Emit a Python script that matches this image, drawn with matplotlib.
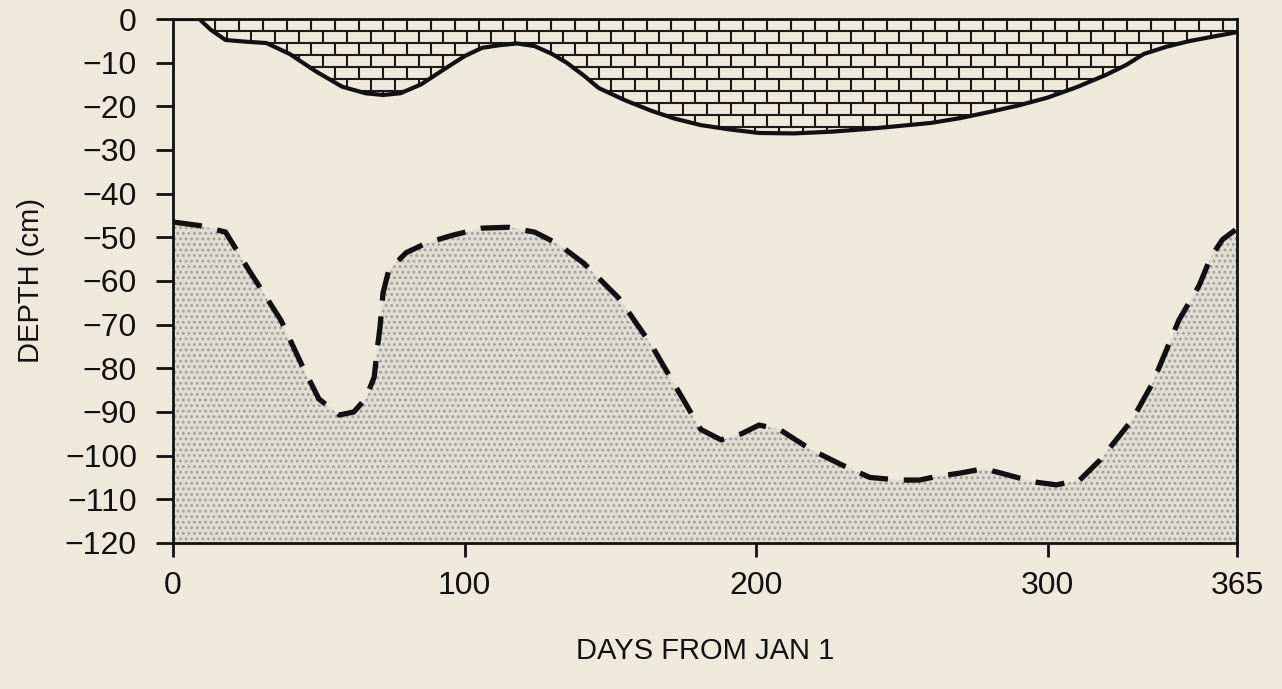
import numpy as np
import matplotlib.pyplot as plt
from matplotlib.collections import LineCollection

# solid line: bottom of the brick (frozen) layer
frost_day = [0, 9, 13, 18, 25, 32, 40, 49, 58, 66, 72, 78, 85, 93, 100, 106, 112, 118, 124,
             130, 135, 141, 146, 155, 164, 172, 181, 191, 201, 213, 226, 238, 249, 260,
             270, 280, 290, 300, 310, 320, 327, 333, 341, 349, 357, 365]
frost_depth = [0, 0, -2.5, -4.8, -5.2, -5.5, -8, -12, -15.5, -17, -17.4, -17, -15, -11.5, -8.5,
               -6.6, -6, -5.6, -6.2, -8, -10, -13, -15.8, -18.6, -21, -22.8, -24.3, -25.3, -26.1,
               -26.2, -25.8, -25.2, -24.5, -23.8, -22.7, -21.3, -19.8, -18, -15.6, -12.8, -10.5,
               -8, -6.3, -5, -4, -3]

# dashed line: top of the stippled layer
thaw_day = [0, 9, 18, 26, 37, 44, 50, 57, 62, 66, 69, 70, 71, 72, 74, 80, 87, 96, 106, 115, 124,
            132, 141, 153, 164, 174, 181, 188, 195, 201, 208, 219, 229, 239, 249, 256, 261,
            270, 278, 284, 295, 303, 311, 318, 329, 336, 345, 352, 356, 360, 365]
thaw_depth = [-46.5, -47.3, -48.8, -57.5, -69, -79, -87, -90.7, -90, -87, -82, -75.8, -70.5,
              -62.8, -57.5, -53.5, -51.3, -49.5, -47.9, -47.7, -48.8, -51.5, -56, -64, -74.6,
              -86, -94, -96.4, -95, -93, -94, -98.7, -102, -105, -105.6, -105.6, -104.9, -104,
              -103, -104, -106, -106.7, -105.6, -101, -91.8, -83.4, -69, -61, -54.5, -50.5, -48]

xticks = [0, 100, 200, 300, 365]
yticks = list(range(0, -121, -10))

bg = '#eeeadb'
plt.rcParams['font.family'] = ['Liberation Sans', 'DejaVu Sans']
plt.rcParams['hatch.linewidth'] = 1.3
plt.rcParams['hatch.color'] = '#a3a199'

fig = plt.figure(figsize=(12.82, 6.89), dpi=100, facecolor=bg)
ax = fig.add_axes([0.135, 0.212, 0.83, 0.7604])
ax.set_facecolor(bg)

# stippled region below the dashed line
ax.fill_between(thaw_day, thaw_depth, -120, facecolor='#e0ddd3', edgecolor='#a3a199',
                hatch='...', linewidth=0, zorder=1)
ax.plot(thaw_day, thaw_depth, color='#111111', lw=3.8, linestyle=(0, (5.5, 3)),
        solid_capstyle='butt', zorder=4)

# brick region between surface and the solid line
poly = ax.fill_between(frost_day, 0, frost_depth, facecolor=bg, edgecolor='none', zorder=2)
row_h = 12 / 4.367   # brick row height in data units (~12 px)
brick_w = 24 / 2.915  # brick width in data units (~24 px)
segs = []
nrows = 11
for i in range(nrows + 1):
    yy = -i * row_h
    segs.append([(0, yy), (365, yy)])
for i in range(nrows):
    y_top, y_bot = -i * row_h, -(i + 1) * row_h
    off = 14.5 + (i % 2) * brick_w / 2
    for xx in np.arange(off - brick_w, 366, brick_w):
        segs.append([(xx, y_top), (xx, y_bot)])
bricks = LineCollection(segs, colors='#1a1a1a', linewidths=1.5, zorder=3)
ax.add_collection(bricks)
bricks.set_clip_path(poly.get_paths()[0], transform=ax.transData)
ax.plot(frost_day, frost_depth, color='#111111', lw=3, zorder=4)

ax.set_xlim(0, 365)
ax.set_ylim(-120, 0)
ax.set_xticks(xticks)
ax.set_yticks(yticks)
ax.set_yticklabels(['0'] + ['\u2212%d' % -v for v in yticks[1:]])
for s in ax.spines.values():
    s.set_linewidth(2)
    s.set_color('#111111')
    s.set_zorder(5)
ax.tick_params(axis='y', length=12, width=2, pad=14, labelsize=23, colors='#111111')
ax.tick_params(axis='x', length=10, width=2, pad=10, labelsize=23, colors='#111111')
ax.set_xlabel('DAYS FROM JAN 1', fontsize=21, labelpad=26, color='#111111')
ax.set_ylabel('DEPTH (cm)', fontsize=21, labelpad=14, color='#111111')

fig.savefig('out.png', dpi=100, facecolor=bg)
